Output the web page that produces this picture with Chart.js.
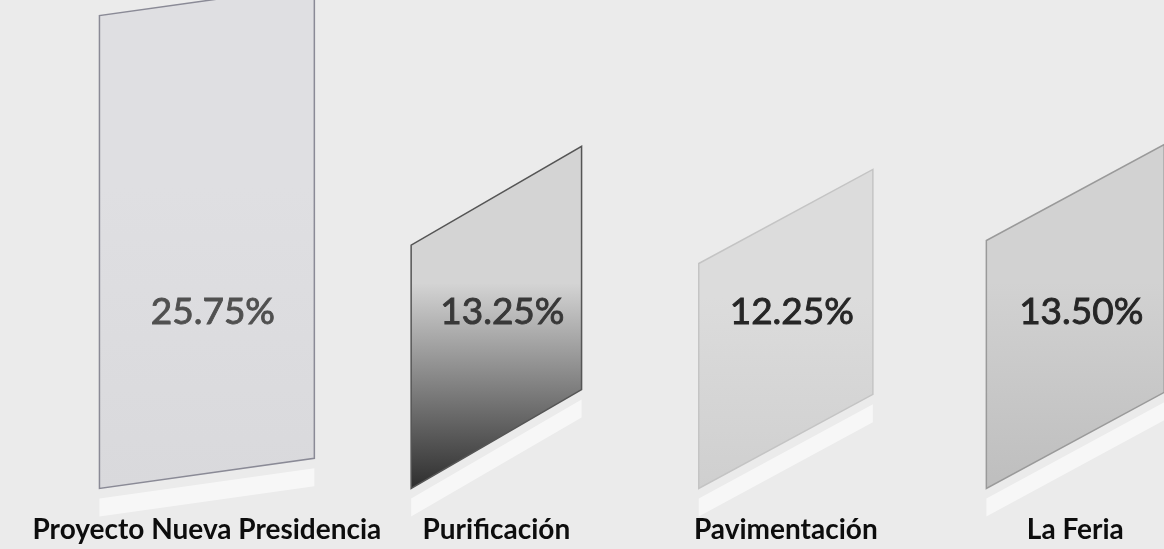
<!DOCTYPE html>
<html>
<head>
<meta charset="utf-8">
<script src="https://cdn.jsdelivr.net/npm/chart.js@4.4.1/dist/chart.umd.min.js"></script>
<style>
    html, body { margin: 0; padding: 0; background: #ebebeb; overflow: hidden; }
    #wrap { position: absolute; left: 0; top: 0; width: 1240px; height: 581px; }
</style>
</head>
<body>
<div id="wrap"><canvas id="chart"></canvas></div>
<script>
const categories = ["Proyecto Nueva Presidencia", "Purificación", "Pavimentación", "La Feria"];
const shares = [25.75, 13.25, 12.25, 13.50];
const shareLabels = ["25.75%", "13.25%", "12.25%", "13.50%"];

// look of each slanted bar (scan of a 3D chart)
const barLook = [
    { skew: 0.14, widen: 1.16, top: "#dfdfe2", bottom: "#d9d9dc", edge: "#8a8a96", text: "#505050" },
    { skew: 0.58, widen: 0.92, top: "#d4d4d4", bottom: "#2e2e2e", edge: "#555555", text: "#383838" },
    { skew: 0.54, widen: 0.94, top: "#dcdcdc", bottom: "#cfcfcf", edge: "#c4c4c4", text: "#262626" },
    { skew: 0.54, widen: 0.96, top: "#d2d2d2", bottom: "#bebebe", edge: "#9a9a9a", text: "#262626" }
];

const slantedBars = {
    id: "slantedBars",
    beforeDatasetsDraw(chart) {
        const ctx = chart.ctx;
        const meta = chart.getDatasetMeta(0);
        meta.data.forEach((bar, i) => {
            const p = bar.getProps(["x", "y", "base", "width"], true);
            const look = barLook[i];
            const w = p.width * look.widen;
            const left = p.x - w / 2, right = p.x + w / 2;
            const rise = look.skew * w;

            // pale reflection strip below the bar
            ctx.save();
            ctx.beginPath();
            ctx.moveTo(left, p.base + 10);
            ctx.lineTo(right, p.base + 10 - rise);
            ctx.lineTo(right, p.base + 28 - rise);
            ctx.lineTo(left, p.base + 28);
            ctx.closePath();
            ctx.fillStyle = "rgba(255,255,255,0.6)";
            ctx.fill();

            const g = ctx.createLinearGradient(0, p.y - rise, 0, p.base);
            g.addColorStop(0, look.top);
            g.addColorStop(0.4, look.top);
            g.addColorStop(1, look.bottom);
            ctx.beginPath();
            ctx.moveTo(left, p.base);
            ctx.lineTo(left, p.y);
            ctx.lineTo(right, p.y - rise);
            ctx.lineTo(right, p.base - rise);
            ctx.closePath();
            ctx.fillStyle = g;
            ctx.fill();
            ctx.lineWidth = 1.5;
            ctx.strokeStyle = look.edge;
            ctx.stroke();
            ctx.restore();
        });
        return false;
    },
    afterDraw(chart) {
        const ctx = chart.ctx;
        const yScale = chart.scales.y;
        const meta = chart.getDatasetMeta(0);
        ctx.save();
        ctx.font = "37px Lato";
        ctx.textAlign = "center";
        ctx.textBaseline = "middle";
        ctx.lineWidth = 0.9;
        meta.data.forEach((bar, i) => {
            const ty = yScale.getPixelForValue(9.6);
            ctx.fillStyle = barLook[i].text;
            ctx.strokeStyle = barLook[i].text;
            ctx.fillText(shareLabels[i], bar.x + 6, ty);
            ctx.strokeText(shareLabels[i], bar.x + 6, ty);
        });
        ctx.restore();
    }
};

new Chart(document.getElementById("chart"), {
    type: "bar",
    data: {
        labels: categories,
        datasets: [{ data: shares, backgroundColor: "#d8d8d8", barPercentage: 0.64, categoryPercentage: 1 }]
    },
    options: {
        responsive: true,
        maintainAspectRatio: false,
        animation: false,
        layout: { padding: { left: 60, right: 20, top: 0, bottom: 9 } },
        plugins: { legend: { display: false }, tooltip: { enabled: false } },
        scales: {
            x: {
                grid: { display: false, drawTicks: false },
                border: { display: false },
                ticks: {
                    color: "#0d0d0d", padding: 25, maxRotation: 0, minRotation: 0, autoSkip: false,
                    font: { family: "Lato", weight: "bold", size: 28 }
                }
            },
            y: { display: false, min: 0, max: 26.6 }
        }
    },
    plugins: [slantedBars]
});
</script>
</body>
</html>
